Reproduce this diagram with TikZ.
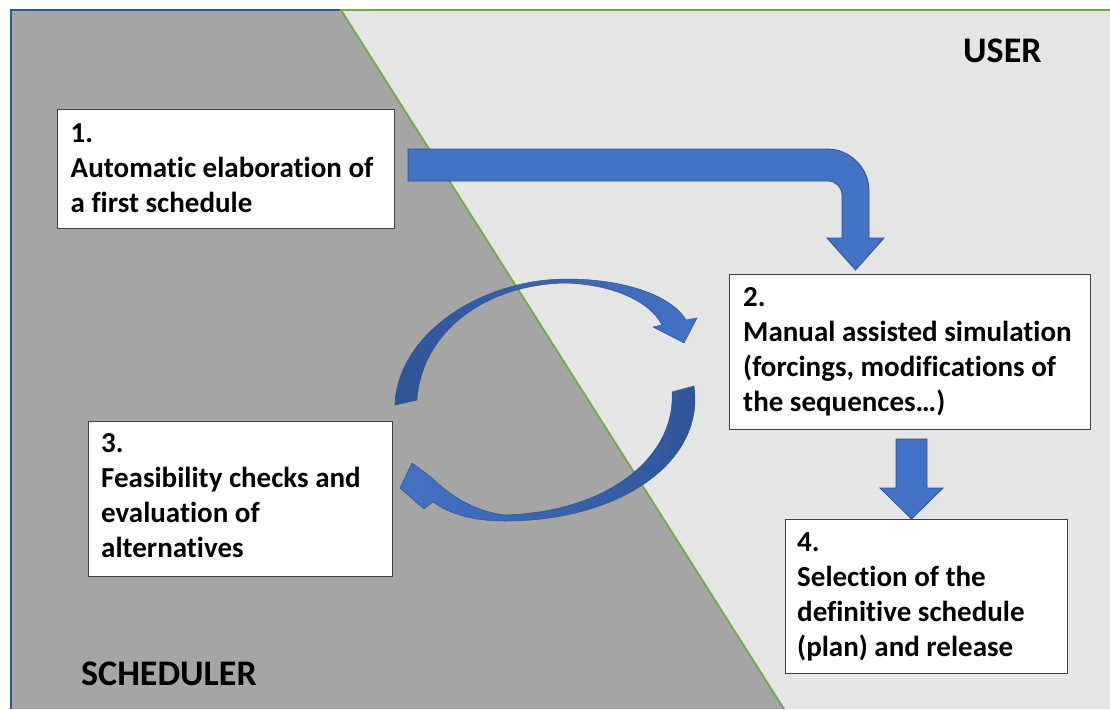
\documentclass[tikz,border=0pt]{standalone}
\usepackage{fontspec}
\setmainfont{Carlito}[Ligatures=NoCommon]
\definecolor{schedgray}{HTML}{A5A5A5}
\definecolor{userlight}{HTML}{E5E5E5}
\definecolor{frameblue}{HTML}{2F5597}
\definecolor{splitgreen}{HTML}{70AD47}
\definecolor{officeblue}{HTML}{4472C4}
\definecolor{deepblue}{HTML}{2F5597}
\definecolor{arrowedge}{HTML}{2F528F}
\begin{document}
\begin{tikzpicture}[x=1pt,y=-1pt,
  boxframe/.style={draw=black!75, line width=1pt, fill=white, anchor=north west, inner sep=0pt},
  % base anchor of a multi-line node sits on its last line
  boxtext/.style={anchor=base west, inner sep=0pt, align=left,
    font=\bfseries\fontsize{29}{35}\selectfont},
  zonelabel/.style={anchor=base west, inner sep=0pt,
    font=\bfseries\fontsize{36}{43}\selectfont},
  blockarrow/.style={fill=officeblue, draw=arrowedge, line width=0.8pt, line join=miter},
  looparrow/.style={draw=arrowedge, line width=0.5pt, line join=miter}]
\useasboundingbox (0,0) rectangle (1110,709);
\fill[white] (0,0) rectangle (1110,709);

% the two zones
\fill[schedgray] (11,10) -- (341,10) -- (784,709) -- (11,709) -- cycle;
\fill[userlight] (341,10) -- (1110,10) -- (1110,709) -- (784,709) -- cycle;
\draw[frameblue, line width=1.8pt] (11,709) -- (11,10) -- (341,10);
\draw[splitgreen, line width=1.8pt] (1110,10) -- (341,10) -- (784,709);

\node[zonelabel] (user) at (963,63) {USER};
\node[zonelabel] (sched) at (81,685) {SCHEDULER};

% step boxes
\node[boxframe, minimum width=337pt, minimum height=119pt] (box1) at (57,109) {};
\node[boxframe, minimum width=361pt, minimum height=155pt] (box2) at (729,274) {};
\node[boxframe, minimum width=304pt, minimum height=155pt] (box3) at (88,421) {};
\node[boxframe, minimum width=282pt, minimum height=154pt] (box4) at (785,519) {};

\node[boxtext] (txt1) at (70.5,212.7) {1.\\Automatic elaboration of\\a first schedule};
\node[boxtext] (txt2) at (743,411.7) {2.\\Manual assisted simulation\\(forcings, modifications of\\the sequences…)};
\node[boxtext] (txt3) at (101,557.7) {3.\\Feasibility checks and\\evaluation of\\alternatives};
\node[boxtext] (txt4) at (797,656.7) {4.\\Selection of the\\definitive schedule\\(plan) and release};

% bent arrow from step 1 to step 2
\draw[blockarrow] (408,149) -- (827,149)
  .. controls (850.2,149) and (869,167.8) .. (869,191)
  -- (869,238) -- (884,238) -- (855.5,270) -- (827,238) -- (842,238)
  -- (842,195) .. controls (842,187.3) and (835.7,181) .. (828,181)
  -- (408,181) -- cycle;

% straight arrow from step 2 to step 4
\draw[blockarrow] (896,439) -- (927,439) -- (927,488) -- (943,488)
  -- (911.5,519) -- (880,488) -- (896,488) -- cycle;

% loop between step 2 and step 3: upper curved arrow
\draw[looparrow, left color=deepblue, right color=officeblue]
  (395,405) .. controls (397,335) and (480,279) .. (567,279)
  .. controls (625,279) and (672,296) .. (686,320)
  -- (697,318) -- (684,343) -- (653,327) -- (662,325)
  .. controls (650,302) and (615,285) .. (567,283)
  .. controls (482,284) and (421,335) .. (417,400) -- cycle;

% loop between step 2 and step 3: lower curved arrow
\draw[looparrow, left color=officeblue, right color=deepblue]
  (694,386) .. controls (705,462) and (620,521) .. (505,521)
  .. controls (472,521) and (450,514) .. (433,502)
  -- (424,509) -- (400,488) -- (412,463) -- (431,477)
  .. controls (452,498) and (478,512) .. (505,515)
  .. controls (610,512) and (676,455) .. (672,392) -- cycle;
\end{tikzpicture}
\end{document}
